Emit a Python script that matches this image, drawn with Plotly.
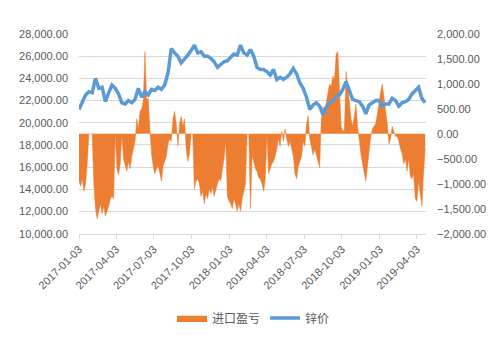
import pandas as pd
import plotly.graph_objects as go

# 进口盈亏 (import profit/loss), sampled every 4 days from 2017-01-03
profit = [
    -950, -1050, -900, -1150, -1000, -600, 0, 0, 0, -1000,
    -1500, -1700, -1550, -1400, -1600, -1450, -1650, -1550, -1450, -1300,
    -1250, -1300, 0, -700, -820, -600, 0, -500, -650, -750,
    -550, -700, -450, -300, -150, 300, 100, 450, 500, 650,
    1650, 700, 700, 100, -400, -650, -800, -700, -650, -780,
    -950, -650, -550, -450, -200, -100, -150, 300, 450, 200,
    -250, 200, 350, 150, 300, -300, -550, -400, 0, 0,
    -1100, -950, -900, -1000, -1250, -1150, -1400, -1200, -1300, -1100,
    -1200, -1050, -1250, -1100, -1000, -900, -950, -700, -500, -150,
    -1250, -1350, -1400, -1500, -1300, -1400, -1550, -1400, -1550, -1300,
    -1150, -1000, 0, 0, -1500, -450, -550, -700, -750, -880,
    -900, -1000, -1150, -900, 0, -800, -700, -600, -550, -450,
    -300, -100, -250, 50, -150, 100, -100, -250, -150, -300,
    -450, -800, -900, -650, -550, -450, -150, -250, 200, 350,
    -100, -250, -430, -300, -450, -600, -680, 300, 550, 450,
    650, 800, 1000, 950, 1150, 1100, 1600, 1650, 800, 150,
    50, 80, 1250, 1000, 650, 300, 150, 350, 600, 150,
    -150, -400, -600, -800, -950, -650, -300, -50, 100, 150,
    200, 400, 650, 850, 1000, 750, 450, 200, -200, -100,
    150, 50, -50, -50, -150, -300, -400, -600, -500, -750,
    -500, -850, -900, -800, -1300, -1350, -950, -1200, -1450, -800,
    -300,
]

# 锌价 (zinc price), sampled every 8 days from 2017-01-03
zinc = [
    21200, 21900, 22500, 22800, 22700, 24000, 23100, 23200, 21900, 22700,
    23400, 23100, 22600, 21800, 21700, 22000, 21800, 22100, 23100, 22300,
    22800, 22500, 23000, 22900, 23200, 23000, 23400, 24500, 26700, 26300,
    26000, 25400, 25700, 26100, 26500, 27000, 26300, 26400, 26000, 26000,
    25800, 25500, 25000, 25300, 25500, 25600, 25900, 26200, 26100, 27000,
    26300, 26100, 26600, 26000, 25000, 24800, 24800, 24600, 24300, 24800,
    23900, 24100, 23900, 24100, 24400, 24900, 24400, 23600, 23100, 22300,
    21200, 21600, 21800, 21500, 20700, 21400, 21800, 22000, 22400, 22500,
    23000, 23700, 22900, 22100, 22000, 21900, 21500, 20800, 21600, 21800,
    22000, 22000, 21500, 21700, 21700, 22200, 22000, 21500, 21800, 21900,
    22100, 22600, 22900, 23200, 22200, 21800,
]

tick_labels = [
    "2017-01-03", "2017-04-03", "2017-07-03", "2017-10-03", "2018-01-03",
    "2018-04-03", "2018-07-03", "2018-10-03", "2019-01-03", "2019-04-03",
]

profit_dates = pd.date_range("2017-01-03", periods=len(profit), freq="4D")
zinc_dates = pd.date_range("2017-01-03", periods=len(zinc), freq="8D")

ORANGE = "#ED7D31"
BLUE = "#5B9BD5"
TXT = "#595959"
GRID = "#D9D9D9"
NUMFONT = "Liberation Sans"

fig = go.Figure()
fig.add_trace(go.Scatter(
    x=profit_dates, y=profit, name="进口盈亏", mode="lines",
    fill="tozeroy", fillcolor=ORANGE,
    line=dict(color=ORANGE, width=0.5), yaxis="y",
))
fig.add_trace(go.Scatter(
    x=zinc_dates, y=zinc, name="锌价", mode="lines",
    line=dict(color=BLUE, width=3.5), yaxis="y2",
))

fig.update_layout(
    width=503, height=339,
    margin=dict(l=79, r=77, t=34, b=103),
    paper_bgcolor="white", plot_bgcolor="white",
    font=dict(family=NUMFONT, size=11, color=TXT),
    showlegend=True,
    legend=dict(
        orientation="h", xref="container", yref="container",
        x=0.504, y=0.062, xanchor="center", yanchor="middle",
        font=dict(family="Noto Sans CJK SC", size=12, color=TXT),
        itemwidth=30, tracegroupgap=0,
    ),
    xaxis=dict(
        type="date",
        range=["2017-01-03", "2019-04-25"],
        tickvals=tick_labels, ticktext=tick_labels,
        tickangle=-45,
        showgrid=False, zeroline=False,
        showline=True, linecolor=GRID, linewidth=1,
        ticks="outside", ticklen=4, tickcolor=GRID,
        tickfont=dict(family=NUMFONT, size=11, color=TXT),
    ),
    yaxis=dict(
        side="right", range=[-2000, 2000], dtick=500,
        tickformat=",.2f", showgrid=False, zeroline=False,
        showline=False, ticks="", ticklabelstandoff=10,
        tickfont=dict(family=NUMFONT, size=11, color=TXT),
    ),
    yaxis2=dict(
        overlaying="y", side="left", range=[10000, 28000], dtick=2000,
        tickformat=",.2f", showgrid=True, gridcolor=GRID, gridwidth=1,
        zeroline=False, showline=False, ticks="", ticklabelstandoff=10,
        tickfont=dict(family=NUMFONT, size=11, color=TXT),
    ),
)

fig.write_html("out.html")
